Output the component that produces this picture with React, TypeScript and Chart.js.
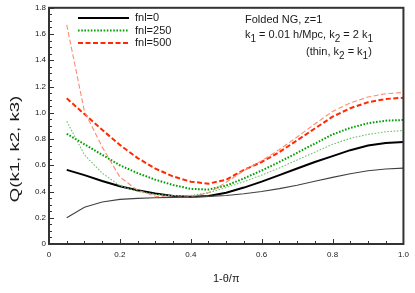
import React, { useEffect, useRef } from "react";
import { Chart, registerables } from "chart.js";

Chart.register(...registerables);

// ---- data ----
const xValues = [0.05, 0.1, 0.15, 0.2, 0.25, 0.3, 0.35, 0.4, 0.45, 0.5, 0.55, 0.6, 0.65, 0.7, 0.75, 0.8, 0.85, 0.9, 0.95, 1.0];
const fnl0Thick = [0.565, 0.525, 0.48, 0.44, 0.41, 0.385, 0.365, 0.36, 0.365, 0.39, 0.43, 0.475, 0.525, 0.575, 0.625, 0.67, 0.715, 0.75, 0.77, 0.777];
const fnl0Thin = [0.2, 0.28, 0.32, 0.34, 0.348, 0.352, 0.355, 0.358, 0.363, 0.37, 0.383, 0.4, 0.422, 0.448, 0.478, 0.508, 0.535, 0.558, 0.572, 0.578];
const fnl250Thick = [0.84, 0.76, 0.68, 0.6, 0.54, 0.49, 0.45, 0.42, 0.415, 0.445, 0.5, 0.56, 0.625, 0.695, 0.765, 0.835, 0.885, 0.92, 0.94, 0.945];
const fnl250Thin = [0.935, 0.68, 0.54, 0.445, 0.4, 0.378, 0.368, 0.37, 0.39, 0.43, 0.475, 0.525, 0.58, 0.64, 0.7, 0.76, 0.805, 0.835, 0.855, 0.865];
const fnl500Thick = [1.11, 0.99, 0.87, 0.755, 0.655, 0.575, 0.515, 0.475, 0.46, 0.49, 0.565, 0.625, 0.7, 0.79, 0.88, 0.97, 1.035, 1.08, 1.105, 1.115];
const fnl500Thin = [1.67, 1.01, 0.74, 0.51, 0.41, 0.365, 0.355, 0.36, 0.39, 0.47, 0.56, 0.635, 0.72, 0.815, 0.915, 1.01, 1.075, 1.12, 1.145, 1.155];

const legendLabels = ["fnl=0", "fnl=250", "fnl=500"];
const xTitle = "1-θ/π";
const yTitle = "Q(k1, k2, k3)";
const noteLine1 = "Folded NG, z=1";

const FONT = "'Liberation Sans', Arial, Helvetica, sans-serif";
const TEXT = "#1a1a1a";

const styles = [
  { color: "#000000", dash: [] as number[] },
  { color: "#00a000", dash: [1.6, 1.6] },
  { color: "#ff2a00", dash: [5, 2.5] },
];
const thinColors = ["#404040", "#70c070", "#ff8a72"];

function pts(ys: number[]) {
  return xValues.map((x, i) => ({ x, y: ys[i] }));
}

type Run = { t: string; sub?: boolean };
function drawRuns(ctx: CanvasRenderingContext2D, runs: Run[], x: number, y: number) {
  let cx = x;
  for (const r of runs) {
    ctx.font = r.sub ? `10px ${FONT}` : `11px ${FONT}`;
    ctx.fillText(r.t, cx, r.sub ? y + 4 : y);
    cx += ctx.measureText(r.t).width;
  }
}

const decorPlugin = {
  id: "decor",
  afterDatasetsDraw(chart: any) {
    const { ctx, chartArea } = chart;
    const xs = chart.scales.x;
    const ys = chart.scales.y;
    ctx.save();
    // inward ticks
    ctx.strokeStyle = "#333";
    ctx.lineWidth = 1;
    ctx.beginPath();
    for (let i = 0; i <= 20; i++) {
      const v = i * 0.05;
      const px = Math.round(xs.getPixelForValue(v)) + 0.5;
      const len = i % 4 === 0 ? 5 : 3;
      ctx.moveTo(px, chartArea.bottom);
      ctx.lineTo(px, chartArea.bottom - len);
    }
    for (let i = 0; i <= 36; i++) {
      const v = i * 0.05;
      const py = Math.round(ys.getPixelForValue(v)) + 0.5;
      const len = i % 4 === 0 ? 5 : 3;
      ctx.moveTo(chartArea.left, py);
      ctx.lineTo(chartArea.left + len, py);
    }
    ctx.stroke();
    // frame
    ctx.strokeStyle = "#333333";
    ctx.lineWidth = 2;
    ctx.strokeRect(chartArea.left, chartArea.top, chartArea.right - chartArea.left, chartArea.bottom - chartArea.top);

    // legend
    const ds = chart.data.datasets;
    for (let i = 0; i < 3; i++) {
      const d = ds[3 + i];
      const y = 18 + i * 12.5;
      ctx.strokeStyle = d.borderColor;
      ctx.lineWidth = d.borderWidth;
      ctx.setLineDash(d.borderDash || []);
      ctx.beginPath();
      ctx.moveTo(78, y);
      ctx.lineTo(129, y);
      ctx.stroke();
      ctx.setLineDash([]);
      ctx.fillStyle = TEXT;
      ctx.font = `11px ${FONT}`;
      ctx.textBaseline = "middle";
      ctx.textAlign = "left";
      ctx.fillText(legendLabels[i], 135, y);
    }

    // annotation
    ctx.fillStyle = TEXT;
    ctx.textBaseline = "alphabetic";
    ctx.textAlign = "left";
    ctx.font = `11px ${FONT}`;
    ctx.fillText(noteLine1, 245, 23);
    drawRuns(ctx, [
      { t: "k" }, { t: "1", sub: true }, { t: " = 0.01 h/Mpc, k" }, { t: "2", sub: true }, { t: " = 2 k" }, { t: "1", sub: true },
    ], 245, 38);
    drawRuns(ctx, [
      { t: "(thin, k" }, { t: "2", sub: true }, { t: " = k" }, { t: "1", sub: true }, { t: ")" },
    ], 306, 55);

    // y title
    ctx.save();
    ctx.translate(16, 149);
    ctx.rotate(-Math.PI / 2);
    ctx.scale(1.55, 1);
    ctx.font = `12px ${FONT}`;
    ctx.textAlign = "center";
    ctx.textBaseline = "middle";
    ctx.fillStyle = TEXT;
    ctx.fillText(yTitle, 0, 0);
    ctx.restore();

    ctx.restore();
  },
};

export default function App() {
  const ref = useRef<HTMLCanvasElement | null>(null);
  useEffect(() => {
    if (!ref.current) return;
    const thick = [fnl0Thick, fnl250Thick, fnl500Thick];
    const thin = [fnl0Thin, fnl250Thin, fnl500Thin];
    const datasets: any[] = [];
    for (let i = 0; i < 3; i++) {
      datasets.push({
        label: legendLabels[i] + " (thin)",
        data: pts(thin[i]),
        borderColor: thinColors[i],
        borderWidth: 1.1,
        borderDash: styles[i].dash,
        pointRadius: 0,
        fill: false,
      });
    }
    for (let i = 0; i < 3; i++) {
      datasets.push({
        label: legendLabels[i],
        data: pts(thick[i]),
        borderColor: styles[i].color,
        borderWidth: 2,
        borderDash: styles[i].dash,
        pointRadius: 0,
        fill: false,
      });
    }
    const tickFont = { family: FONT, size: 8 };
    const chart = new Chart(ref.current, {
      type: "line",
      data: { datasets },
      plugins: [decorPlugin],
      options: {
        animation: false,
        responsive: false,
        maintainAspectRatio: false,
        devicePixelRatio: 1,
        layout: { padding: { left: 0, right: 6, top: 6, bottom: 0 } },
        plugins: { legend: { display: false }, tooltip: { enabled: false } },
        elements: { line: { tension: 0 }, point: { radius: 0 } },
        scales: {
          x: {
            type: "linear",
            min: 0,
            max: 1,
            ticks: { stepSize: 0.2, font: tickFont, color: TEXT, padding: 6, maxRotation: 0 },
            grid: { display: false, drawTicks: false },
            border: { display: false },
            title: { display: true, text: xTitle, color: TEXT, font: { family: FONT, size: 11 }, padding: { top: 0, bottom: 7 } },
            afterFit: (s: any) => { s.height = 49; },
          },
          y: {
            type: "linear",
            min: 0,
            max: 1.8,
            ticks: { stepSize: 0.2, font: tickFont, color: TEXT, padding: 3 },
            grid: { display: false, drawTicks: false },
            border: { display: false },
            afterFit: (s: any) => { s.width = 49; },
          },
        },
      } as any,
    });
    return () => chart.destroy();
  }, []);
  return (
    <div style={{ position: "fixed", left: 0, top: 0, width: 415, height: 293, background: "#fff" }}>
      <canvas ref={ref} width={415} height={293} />
    </div>
  );
}
